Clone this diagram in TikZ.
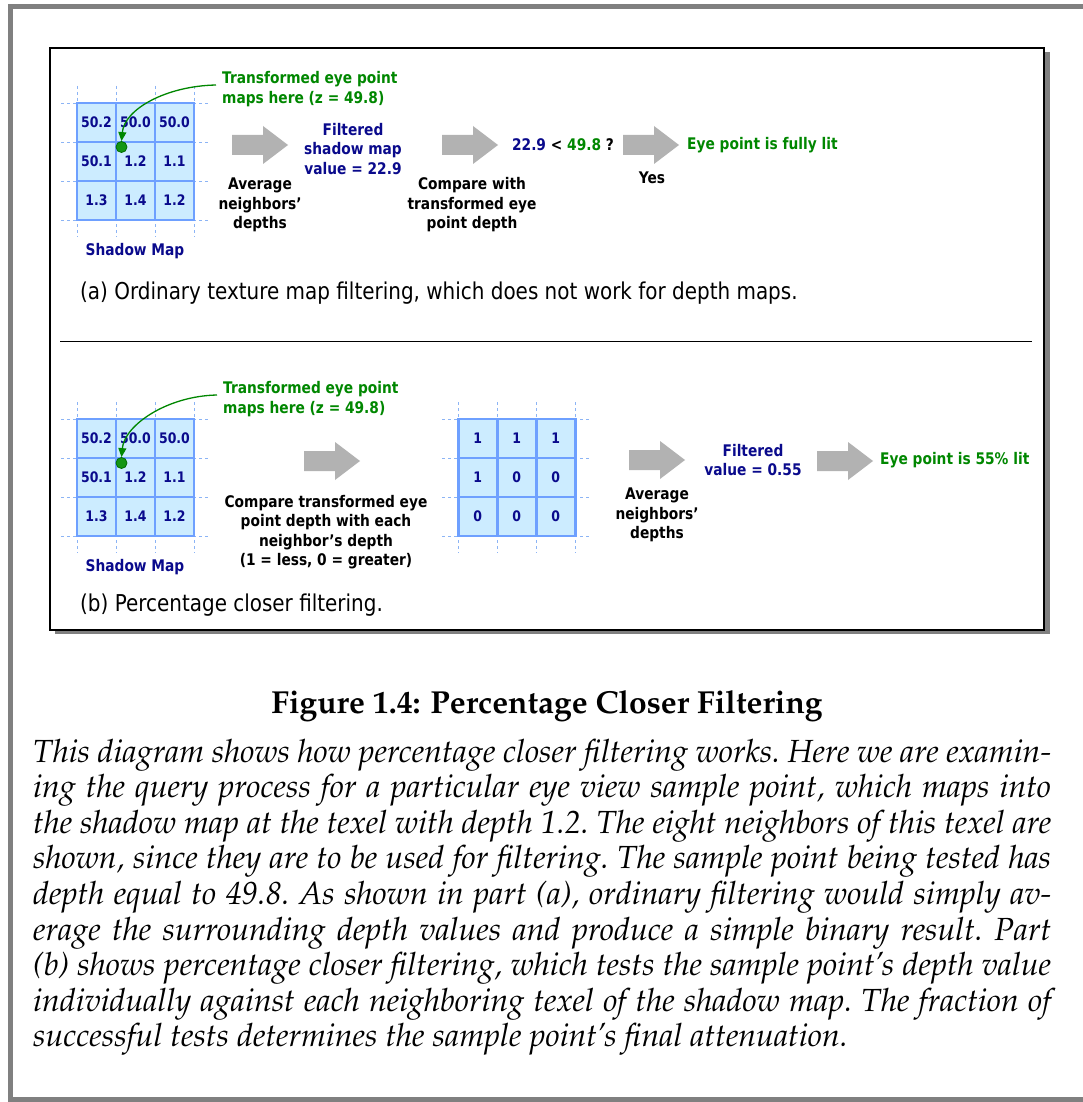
\documentclass[tikz,border=0pt]{standalone}
\usepackage[T1,TU]{fontenc}
\usepackage{fontspec}
\usetikzlibrary{arrows.meta}

% sans face for the diagram labels, Palatino for the caption
\newfontfamily\diafont[FakeStretch=0.86]{DejaVu Sans}
\newcommand\palbold{\fontencoding{T1}\fontfamily{ppl}\fontseries{b}\fontshape{n}\fontsize{31.8}{38}\selectfont}
\newcommand\palital{\fontencoding{T1}\fontfamily{ppl}\fontseries{m}\fontshape{it}\fontsize{32}{35.6}\selectfont\frenchspacing}

\definecolor{navy}{RGB}{10,10,140}
\definecolor{eyegreen}{RGB}{0,135,0}
\definecolor{dotgreen}{RGB}{20,150,20}
\definecolor{cellfill}{RGB}{204,236,255}
\definecolor{cellline}{RGB}{110,160,255}
\definecolor{gridblue}{RGB}{140,180,245}
\definecolor{arrowgray}{RGB}{178,178,178}
\definecolor{framegray}{RGB}{128,128,128}

% 3x3 texel grid: #1 name prefix, #2/#3 top-left corner, #4 rows of values
\newcommand\cellgrid[4]{%
  \foreach \k in {0,...,3}{
    \draw[gridline] ({#2+39*\k},{#3-17}) -- ({#2+39*\k},{#3+134});
    \draw[gridline] ({#2-16},{#3+39*\k}) -- ({#2+133},{#3+39*\k});
  }
  \foreach \row [count=\r] in {#4}{
    \foreach \val [count=\c] in \row {
      \node[cell] (#1-\r-\c) at ({#2+39*\c-19.5},{#3+39*\r-19.5}) {\val};
    }
  }%
}

\begin{document}
\begin{tikzpicture}[x=1pt,y=-1pt,
  cell/.style={draw=cellline, fill=cellfill, line width=2.6pt, minimum size=39pt,
    inner sep=0pt, text=navy, font=\diafont\bfseries\fontsize{14.5}{17}\selectfont},
  gridline/.style={gridblue, line width=0.8pt, dash pattern=on 3pt off 3pt},
  lbl/.style={inner sep=0pt, align=center, font=\diafont\bfseries\fontsize{16}{19.5}\selectfont},
  navylbl/.style={lbl, text=navy},
  greenlbl/.style={lbl, text=eyegreen},
  eyedot/.style={circle, fill=dotgreen, draw=eyegreen!80!black, line width=0.8pt,
    minimum size=11pt, inner sep=0pt},
  eyearrow/.style={draw=eyegreen, line width=1.3pt, -{Triangle[length=9pt,width=8pt]}},
  note/.style={inner sep=0pt, anchor=west, font=\diafont\fontsize{23.2}{27}\selectfont},
  bodyline/.style={inner sep=0pt, anchor=base west, font=\palital},
  pics/blockarrow/.style={code={
    \fill[arrowgray] (0,-10) -- (31,-10) -- (31,-19) -- (56,0) -- (31,19)
      -- (31,10) -- (0,10) -- cycle;}}
]
\useasboundingbox (0,0) rectangle (1083,1102);

% page frame
\draw[framegray, line width=5pt] (10.5,6.5) rectangle (1085.5,1099.5);

% figure panel with drop shadow
\fill[framegray] (55,52.5) rectangle (1050,634);
\draw[black, line width=2pt, fill=white] (50,48.5) rectangle (1043.5,629.5);
\draw[line width=1pt] (60,341) -- (1032,341);

% ---------- (a) ordinary filtering ----------
\cellgrid{sa}{77}{103}{{50.2,50.0,50.0},{50.1,1.2,1.1},{1.3,1.4,1.2}}
\node[eyedot] (dotA) at (121.5,147) {};
\node[greenlbl, align=left, anchor=west] (lblA) at (222,89)
  {Transformed eye point\\maps here (z = 49.8)};
\draw[eyearrow] ([xshift=-6pt,yshift=4pt]lblA.west)
  .. controls +(-50,1) and +(3,-32) .. (dotA.north);
\node[navylbl] (smA) at (135,251) {Shadow Map};

\pic (arA1) at (232,145) {blockarrow};
\node[lbl] (avgA) at (260,205) {Average\\neighbors’\\depths};
\node[navylbl] (filtA) at (353,149) {Filtered\\shadow map\\value = 22.9};
\pic (arA2) at (442,145) {blockarrow};
\node[lbl] (cmpTxtA) at (472,205) {Compare with\\transformed eye\\point depth};
\node[lbl] (cmpA) at (563,145) {\textcolor{navy}{22.9} < \textcolor{eyegreen}{49.8} ?};
\pic (arA3) at (623,145) {blockarrow};
\node[lbl] (yesA) at (652,178) {Yes};
\node[greenlbl, anchor=west] (litA) at (687,145) {Eye point is fully lit};
\node[note] (capA) at (80,293)
  {(a) Ordinary texture map filtering, which does not work for depth maps.};

% ---------- (b) percentage closer filtering ----------
\cellgrid{sb}{77}{419}{{50.2,50.0,50.0},{50.1,1.2,1.1},{1.3,1.4,1.2}}
\node[eyedot] (dotB) at (121.5,463) {};
\node[greenlbl, align=left, anchor=west] (lblB) at (223,399)
  {Transformed eye point\\maps here (z = 49.8)};
\draw[eyearrow] ([xshift=-6pt,yshift=4pt]lblB.west)
  .. controls +(-50,1) and +(3,-32) .. (dotB.north);
\node[navylbl] (smB) at (135,567) {Shadow Map};

\pic (arB1) at (304,461) {blockarrow};
\node[lbl] (cmpTxtB) at (326,532)
  {Compare transformed eye\\point depth with each\\neighbor’s depth\\(1 = less, 0 = greater)};
\cellgrid{tb}{458.3}{419}{{1,1,1},{1,0,0},{0,0,0}}
\pic (arB2) at (629,460) {blockarrow};
\node[lbl] (avgB) at (657,515) {Average\\neighbors’\\depths};
\node[navylbl] (filtB) at (753,460) {Filtered\\value = 0.55};
\pic (arB3) at (817,461) {blockarrow};
\node[greenlbl, anchor=west] (litB) at (880,460) {Eye point is 55\% lit};
\node[note] (capB) at (80,605) {(b) Percentage closer filtering.};

% ---------- caption ----------
\node[inner sep=0pt, anchor=base, font=\palbold] (title) at (547,713)
  {Figure 1.4: Percentage Closer Filtering};
\node[bodyline] (cap1) at (33,762) {\hbox to 1018pt{This diagram shows how percentage closer filtering works. Here we are examin-}};
\node[bodyline] (cap2) at (33,797.6) {\hbox to 1018pt{ing the query process for a particular eye view sample point, which maps into}};
\node[bodyline] (cap3) at (33,833.2) {\hbox to 1018pt{the shadow map at the texel with depth 1.2. The eight neighbors of this texel are}};
\node[bodyline] (cap4) at (33,868.8) {\hbox to 1018pt{shown, since they are to be used for filtering. The sample point being tested has}};
\node[bodyline] (cap5) at (33,904.4) {\hbox to 1018pt{depth equal to 49.8. As shown in part (a), ordinary filtering would simply av-}};
\node[bodyline] (cap6) at (33,940) {\hbox to 1018pt{erage the surrounding depth values and produce a simple binary result. Part}};
\node[bodyline] (cap7) at (33,975.6) {\hbox to 1018pt{(b) shows percentage closer filtering, which tests the sample point's depth value}};
\node[bodyline] (cap8) at (33,1011.2) {\hbox to 1018pt{individually against each neighboring texel of the shadow map. The fraction of}};
\node[bodyline] (cap9) at (33,1046.8) {successful tests determines the sample point's final attenuation.};
\end{tikzpicture}
\end{document}
